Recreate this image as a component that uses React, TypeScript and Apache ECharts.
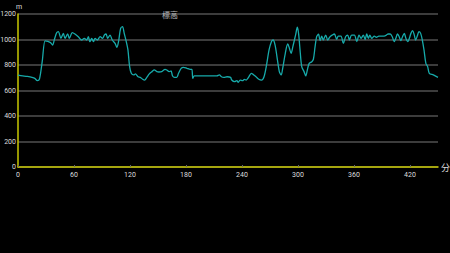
import React, { useEffect, useRef } from "react";
import * as echarts from "echarts";

const seriesName = "標高";
const yAxisName = "m";
const xAxisName = "分";

const minutes = [
  0, 5, 10, 15, 18, 20.7, 23, 26, 29, 32, 35, 37, 39, 41.4, 43.2, 46, 48.6, 50.4, 53.2, 55,
  58.2, 61, 64.6, 68.2, 71, 73.6, 75.4, 77, 79, 80.8, 82.6, 85, 88, 90.5, 92.6, 94.4, 96, 98.6,
  101, 104, 106, 107.7, 110, 112, 113.8, 116, 117.8, 119.6, 121.4, 124, 125.8, 128.6, 131,
  133.6, 135.7, 138, 140.7, 143.6, 146, 148.8, 151, 154, 157.6, 159.4, 162, 164, 165.6, 167.8,
  170, 172, 174.8, 177.3, 181, 184.5, 186.3, 187.3, 189, 200, 213, 215.8, 218, 220.4, 224,
  227.7, 229, 232, 234.5, 236, 238, 240.6, 242.7, 244.5, 247, 250, 252.5, 255, 258, 261, 263.6,
  266, 269, 271.5, 273.3, 275.4, 278, 280, 282, 283.6, 286.4, 289, 290.8, 292.6, 294.5, 297.4,
  299.3, 300.6, 302.2, 304, 306.5, 308.3, 310, 312, 314.8, 316.5, 318.3, 320, 322, 323.6, 325.4,
  327, 329.7, 331.8, 334.3, 336.8, 339, 341.4, 343.2, 346, 348.6, 351, 353.2, 355, 357.5, 360.4,
  363, 365.4, 367.6, 370, 372, 373.6, 375.4, 377, 379, 381.8, 384, 386.6, 389.5, 392.3, 394.8,
  396.6, 398.8, 401, 403, 404.8, 406.6, 408.4, 410.2, 412, 413.9, 415.6, 417.5, 419.3, 421,
  422.8, 424.6, 426, 427.8, 429.6, 431.4, 433.2, 435, 437, 438.9, 440.7, 445, 450,
];

const elevations = [
  720, 715, 710, 703, 695, 677, 690, 830, 990, 985, 975, 957, 1000, 1053, 1062, 1009, 1048, 1009, 1043, 1009,
  1054, 1043, 1022, 996, 1009, 996, 1022, 983, 1009, 983, 1009, 996, 1022, 1009, 1035, 1043, 1009, 1035,
  996, 970, 939, 983, 1088, 1101, 1048, 983, 918, 787, 735, 722, 730, 708, 703,
  688, 682, 703, 730, 748, 761, 748, 745, 748, 766, 761, 748, 753, 714, 703,
  703, 735, 774, 782, 774, 766, 766, 695, 714, 714, 714, 722, 708, 703, 708,
  703, 682, 669, 677, 664, 682, 677, 688, 682, 703, 735, 722, 708, 688, 682, 708,
  787, 918, 983, 996, 957, 839, 748, 722, 774, 892, 965, 931, 892, 944, 1035,
  1096, 1048, 918, 787, 748, 714, 761, 813, 826, 845, 944, 1022, 1041, 991, 1027,
  996, 1035, 996, 1022, 1035, 1043, 1001, 1027, 1027, 970, 1022, 1035, 996, 1035, 1035,
  983, 1035, 1009, 1035, 1000, 1043, 1009, 1035, 1009, 1027, 1017, 1027, 1027, 1027, 1035,
  1043, 1043, 1022, 983, 1009, 1043, 1022, 991, 1022, 1048, 1009, 983, 1009, 1048,
  1069, 1035, 996, 1027, 1062, 1048, 996, 918, 813, 787, 735, 722, 703,
];

export default function App() {
  const ref = useRef<HTMLDivElement>(null);
  useEffect(() => {
    document.body.style.margin = "0";
    document.body.style.background = "#000";
    const chart = echarts.init(ref.current!, null, { renderer: "svg" });
    const data = minutes.map((m, i) => [m, elevations[i]]);
    chart.setOption({
      animation: false,
      backgroundColor: "#000",
      title: {
        text: seriesName,
        left: 157,
        top: 5,
        textStyle: { color: "#bbbbbb", fontSize: 8, fontWeight: "normal", fontFamily: "Noto Sans CJK JP" },
      },
      grid: { left: 18, right: 12, top: 14, bottom: 86, containLabel: false, outerBoundsMode: "none" },
      xAxis: {
        type: "value",
        min: 0,
        max: 450,
        interval: 60,
        name: xAxisName,
        nameGap: 3,
        nameTextStyle: { color: "#dddddd", fontSize: 9, fontFamily: "Noto Sans CJK JP" },
        axisLine: { lineStyle: { color: "#c8c800", width: 1.5 } },
        axisTick: { show: true, inside: true, length: 2, lineStyle: { color: "#666" } },
        axisLabel: { color: "#dddddd", fontSize: 7, margin: 4, fontFamily: "Roboto", showMaxLabel: false },
        splitLine: { show: false },
      },
      yAxis: {
        type: "value",
        min: 0,
        max: 1200,
        interval: 200,
        name: yAxisName,
        nameGap: 2,
        nameTextStyle: { color: "#dddddd", fontSize: 7, align: "left", padding: [0, 0, 0, -2], fontFamily: "Roboto" },
        axisLine: { show: true, lineStyle: { color: "#c8c800", width: 1.5 } },
        axisTick: { show: false },
        axisLabel: { color: "#dddddd", fontSize: 7, margin: 2, fontFamily: "Roboto", formatter: (v: number) => String(v) },
        splitLine: { show: true, lineStyle: { color: "#505050", width: 1.5 } },
      },
      series: [
        {
          name: seriesName,
          type: "line",
          data,
          showSymbol: false,
          smooth: 0.3,
          lineStyle: { color: "#17aaaa", width: 1.3 },
        },
      ],
    });
    return () => chart.dispose();
  }, []);
  return <div ref={ref} style={{ width: 450, height: 253 }} />;
}
